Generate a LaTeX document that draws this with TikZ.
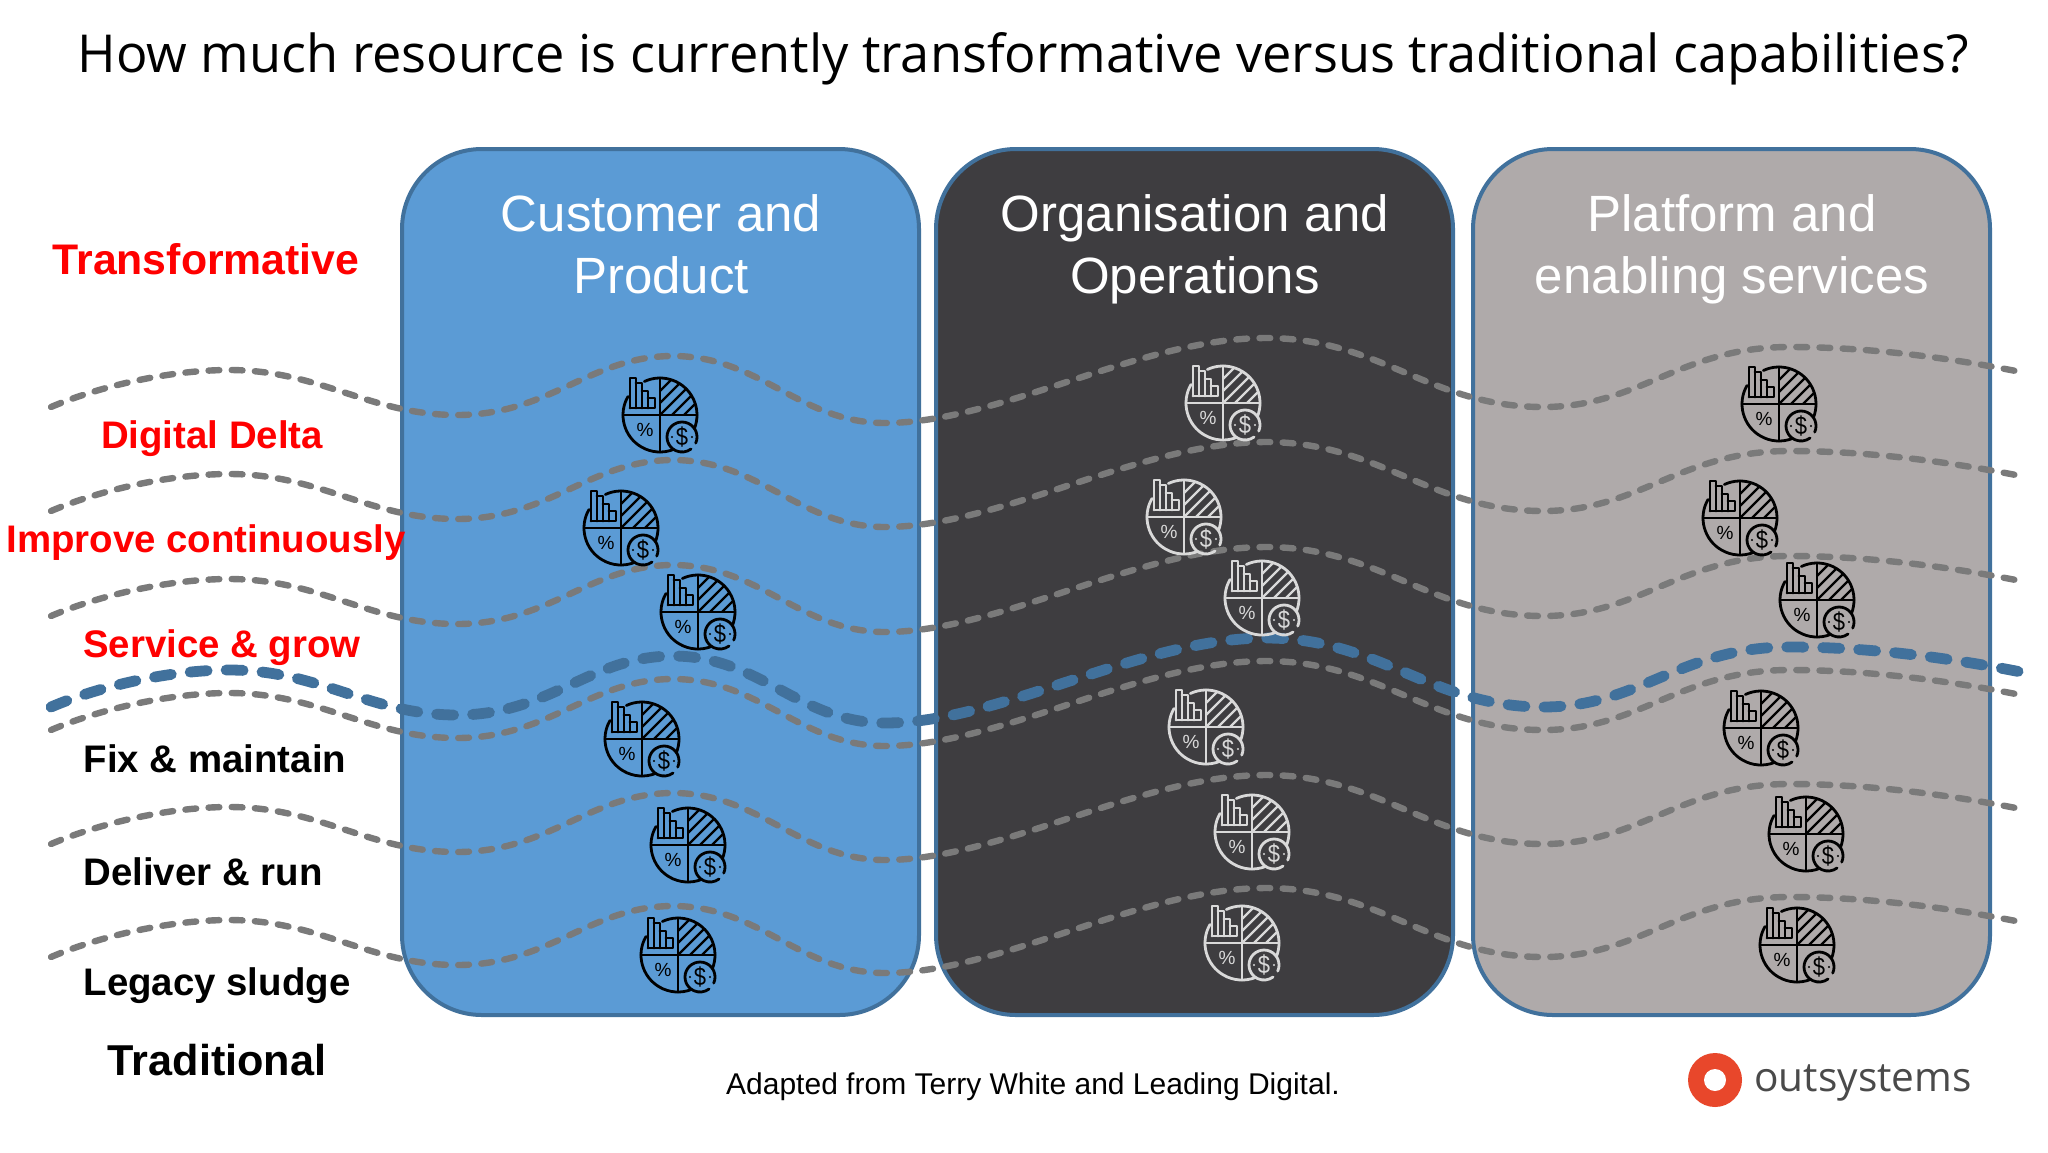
\documentclass[tikz,border=0pt]{standalone}
\usepackage{fontspec}
\setmainfont{Liberation Sans}
\newfontfamily\opensans{Open Sans}
\definecolor{panelblue}{HTML}{5B9BD5}
\definecolor{paneldark}{HTML}{3E3D40}
\definecolor{panelgrey}{HTML}{AFAAAA}
\definecolor{edgeblue}{HTML}{41719C}
\definecolor{wavegrey}{HTML}{7A7A7A}
\definecolor{iconlight}{HTML}{D9D9D9}
\definecolor{logored}{HTML}{E8472B}
\definecolor{logotext}{HTML}{4A4A4A}
\tikzset{
  panel/.style={draw=edgeblue,line width=2pt,rounded corners=40pt},
  wavegray/.style={draw=wavegrey,line width=3.2pt,line cap=round,dash pattern=on 5.4pt off 6.2pt},
  waveblue/.style={draw=edgeblue,line width=5.4pt,line cap=round,dash pattern=on 8.5pt off 9.5pt},
  headtext/.style={anchor=base,text=white,font=\fontsize{25.5}{30}\selectfont},
  redlabel/.style={anchor=base,text=red,font=\bfseries\fontsize{19.2}{23}\selectfont},
  blacklabel/.style={anchor=base,text=black,font=\bfseries\fontsize{19.2}{23}\selectfont},
  iconline/.style={line width=1.4pt,line cap=round,line join=round},
}
\newcommand{\wavecurve}{(51,407) .. controls (100,386) and (170,370) .. (229,370)
  .. controls (320,370) and (370,415) .. (457,415)
  .. controls (550,415) and (590,356) .. (673,356)
  .. controls (760,356) and (800,423) .. (885,423)
  .. controls (1000,423) and (1140,338) .. (1266,338)
  .. controls (1380,338) and (1430,407) .. (1543,407)
  .. controls (1640,407) and (1680,347) .. (1789,347)
  .. controls (1870,347) and (1950,358) .. (2021,372)}
% name, x, y, colour
\newcommand{\resicon}[4]{%
\begin{scope}[shift={(#2,#3)},x=0.5pt,y=0.5pt,iconline,draw=#4]
  \draw (115:37) arc[start angle=115,end angle=-21.6,radius=37];
  \draw (150:37) arc[start angle=150,end angle=291.6,radius=37];
  \draw (-37,0) -- (37,0);
  \draw (0,37) -- (0,-37);
  \draw (-30,7) -- (-30,37) -- (-24,37) -- (-24,7);
  \draw (-24,32) -- (-18,32) -- (-18,7);
  \draw (-18,24) -- (-12,24) -- (-12,7);
  \draw (-12,17) -- (-5,17) -- (-5,7) -- (-30,7);
  \begin{scope}
    \clip (0,0) -- (37,0) arc[start angle=0,end angle=90,radius=37] -- cycle;
    \foreach \c in {-24,-12,0,12,24}
      \draw[line width=1.1pt] (0,\c) -- (40,\c+40);
  \end{scope}
  \draw ([shift={(22,-22)}]-24:15) arc[start angle=-24,end angle=307,radius=15];
  \fill[#4] (12,-22) circle[radius=1.1];
  \fill[#4] (32,-22) circle[radius=1.1];
  \node[inner sep=0pt,text=#4,font=\fontsize{9.5}{11}\selectfont] (#1pct) at (-15,-15) {\%};
  \node[inner sep=0pt,yscale=1.15,text=#4,font=\fontsize{11}{13}\selectfont] (#1usd) at (22,-22) {\$};
\end{scope}}
\begin{document}
\begin{tikzpicture}[x=0.5pt,y=-0.5pt]
\useasboundingbox (0,0) rectangle (2048,1152);
\fill[white] (0,0) rectangle (2048,1152);

\node[anchor=base,text=black,font=\opensans\fontsize{26.15}{32}\selectfont] (title) at (1023,72)
  {How much resource is currently transformative versus traditional capabilities?};

\path[panel,fill=panelblue] (402,149) rectangle (919,1015);
\path[panel,fill=paneldark] (936,149) rectangle (1453,1015);
\path[panel,fill=panelgrey] (1473,149) rectangle (1990,1015);

\node[headtext] (h1a) at (661,231) {Customer and};
\node[headtext] (h1b) at (661,293) {Product};
\node[headtext] (h2a) at (1195,231) {Organisation and};
\node[headtext] (h2b) at (1195,293) {Operations};
\node[headtext] (h3a) at (1732,231) {Platform and};
\node[headtext] (h3b) at (1732,293) {enabling services};

\foreach \o in {0,104,209,323,437,550}{
  \begin{scope}[yshift=-\o*0.5pt]
    \draw[wavegray] \wavecurve;
  \end{scope}
}
\begin{scope}[yshift=-150pt]
  \draw[waveblue] \wavecurve -- (2030,374);
\end{scope}

\resicon{a}{660}{415}{black}
\resicon{b}{621}{528}{black}
\resicon{c}{698}{612}{black}
\resicon{d}{642}{739}{black}
\resicon{e}{688}{845}{black}
\resicon{f}{678}{955}{black}
\resicon{g}{1223}{403}{iconlight}
\resicon{h}{1184}{517}{iconlight}
\resicon{i}{1262}{598}{iconlight}
\resicon{j}{1206}{727}{iconlight}
\resicon{k}{1252}{832}{iconlight}
\resicon{l}{1242}{943}{iconlight}
\resicon{m}{1779}{404}{black}
\resicon{n}{1740}{518}{black}
\resicon{o}{1817}{600}{black}
\resicon{p}{1761}{728}{black}
\resicon{q}{1806}{834}{black}
\resicon{r}{1797}{945}{black}

\node[redlabel,font=\bfseries\fontsize{21.4}{25}\selectfont] (l0) at (206,274) {Transformative};
\node[redlabel] (l1) at (212,448) {Digital Delta};
\node[redlabel] (l2) at (206,552) {Improve continuously};
\node[redlabel] (l3) at (222,657) {Service \& grow};
\node[blacklabel] (l4) at (215,772) {Fix \& maintain};
\node[blacklabel] (l5) at (203,885) {Deliver \& run};
\node[blacklabel] (l6) at (217,995) {Legacy sludge};
\node[blacklabel,font=\bfseries\fontsize{21.6}{25}\selectfont] (l7) at (217,1075) {Traditional};

\node[anchor=base,text=black,font=\fontsize{15}{18}\selectfont] (foot) at (1033,1094)
  {Adapted from Terry White and Leading Digital.};

\fill[logored] (1715,1080) circle[radius=13.5pt];
\fill[white] (1715,1080) circle[radius=5.5pt];
\node[anchor=base west,inner sep=0pt,text=logotext,font=\opensans\fontsize{20.3}{25}\selectfont] (logo) at (1754,1091) {outsystems};
\end{tikzpicture}
\end{document}
